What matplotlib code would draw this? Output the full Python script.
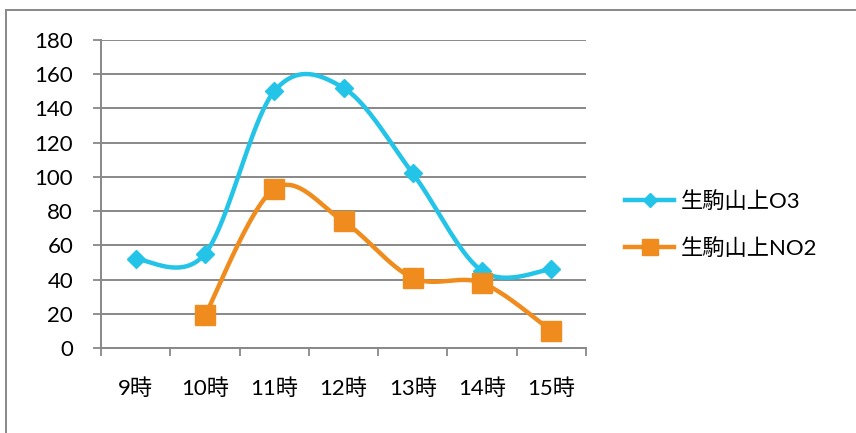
import numpy as np
import matplotlib
matplotlib.use('Agg')
import matplotlib.pyplot as plt
from matplotlib.patches import Rectangle

plt.rcParams['font.family'] = ['Lato', 'Noto Sans CJK JP', 'DejaVu Sans']

# Hourly readings at the Ikoma-yama site
hours = ['9時', '10時', '11時', '12時', '13時', '14時', '15時']
o3 = [52, 55, 150, 152, 102, 45, 46]
no2 = [None, 19, 93, 74, 41, 38, 10]

cyan = '#23C4E7'
orange = '#F08C1E'
gray = '#888888'
fs = 16


def smooth(xs, ys, n=40):
    # Catmull-Rom style Bezier smoothing, like spreadsheet "smoothed line"
    pts = np.column_stack([xs, ys]).astype(float)
    out = []
    for i in range(len(pts) - 1):
        p0 = pts[max(i - 1, 0)]
        p1 = pts[i]
        p2 = pts[i + 1]
        p3 = pts[min(i + 2, len(pts) - 1)]
        c1 = p1 + (p2 - p0) / 6
        c2 = p2 - (p3 - p1) / 6
        t = np.linspace(0, 1, n)[:, None]
        seg = ((1 - t) ** 3) * p1 + 3 * ((1 - t) ** 2) * t * c1 \
            + 3 * (1 - t) * t ** 2 * c2 + t ** 3 * p2
        out.append(seg if i == 0 else seg[1:])
    out = np.vstack(out)
    return out[:, 0], out[:, 1]


fig = plt.figure(figsize=(8.56, 4.33), dpi=100)
ax = fig.add_axes([101 / 856, 85 / 433, 485 / 856, 308 / 433])

x = np.arange(len(hours))

for vals, col, mk, ms, lab in [(o3, cyan, 'D', 9.5, '生駒山上O3'),
                               (no2, orange, 's', 14, '生駒山上NO2')]:
    xs = [xi for xi, v in zip(x, vals) if v is not None]
    ys = [v for v in vals if v is not None]
    sx, sy = smooth(xs, ys)
    ax.plot(sx, sy, color=col, lw=3.2, solid_capstyle='round', zorder=3)
    ax.plot(xs, ys, ls='none', marker=mk, ms=ms, color=col, zorder=4)
    # proxy handle for the legend
    ax.plot([], [], color=col, lw=3.2, marker=mk, ms=ms * 0.8, label=lab)

ax.set_xlim(-0.5, len(hours) - 0.5)
ax.set_ylim(0, 180)
ax.set_yticks(np.arange(0, 181, 20))
ax.yaxis.grid(True, color=gray, lw=1.4)
ax.set_axisbelow(True)

ax.set_xticks(np.arange(-0.5, len(hours), 1))
ax.set_xticklabels([])
ax.set_xticks(x, minor=True)
ax.set_xticklabels(hours, minor=True)
ax.tick_params(axis='x', which='minor', length=0, pad=22, labelsize=fs)
ax.tick_params(axis='x', which='major', length=6, width=1.3, color=gray)
ax.tick_params(axis='y', length=6, width=1.3, color=gray, pad=14, labelsize=fs)

for s in ['top', 'right']:
    ax.spines[s].set_visible(False)
for s in ['left', 'bottom']:
    ax.spines[s].set_color(gray)
    ax.spines[s].set_linewidth(1.4)

ax.legend(loc='center left', bbox_to_anchor=(1.04, 0.4), frameon=False,
          fontsize=fs, handlelength=2.2, labelspacing=1.15, handletextpad=0.3)

# outer chart frame
fig.patches.append(Rectangle((6 / 856, -0.1), 1.2, 423 / 433 + 0.1,
                             transform=fig.transFigure, fill=False,
                             edgecolor=gray, lw=1.4))

fig.savefig('out.png', dpi=100)
